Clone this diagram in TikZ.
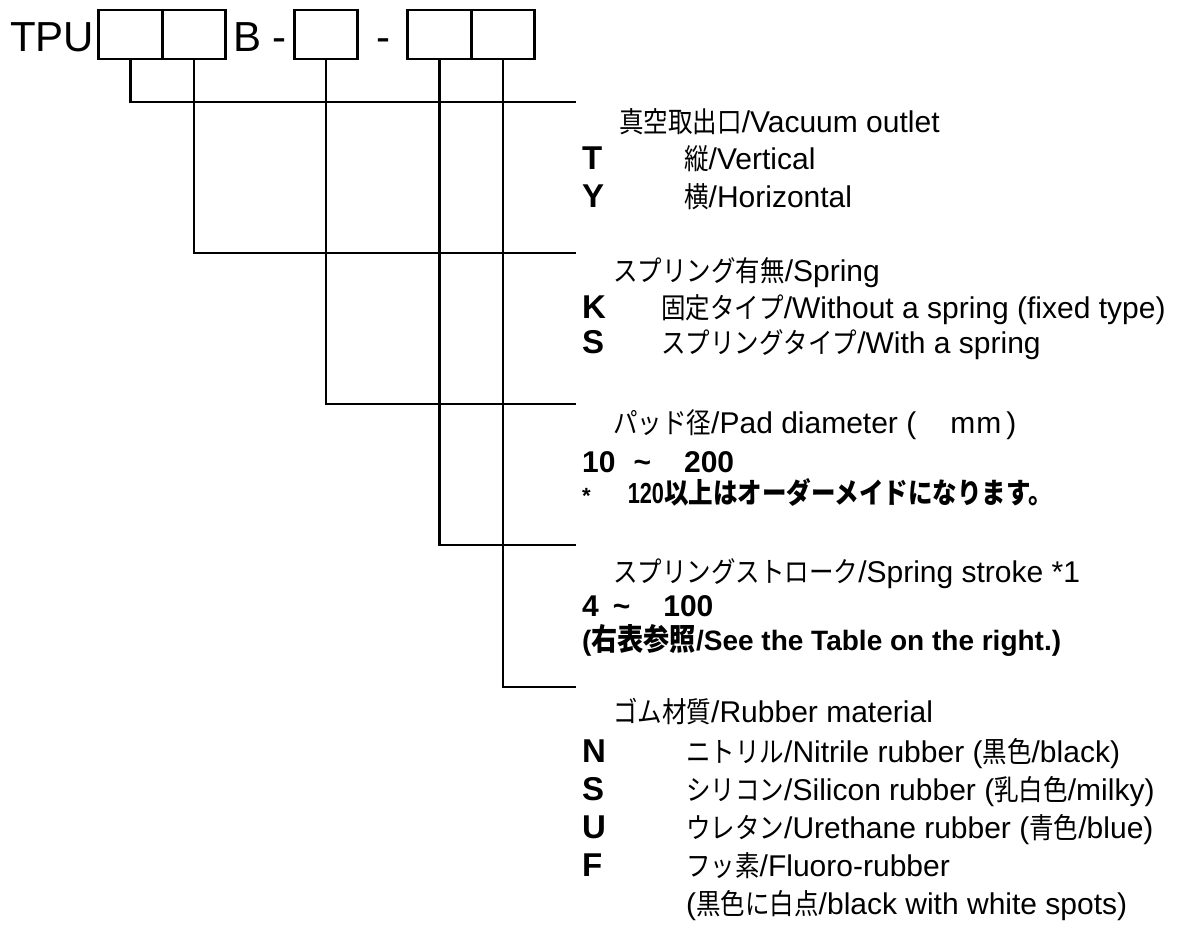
\documentclass[tikz,border=0pt]{standalone}
\usepackage{fontspec}
\setmainfont{Liberation Sans}
\newfontfamily\jpfont{Noto Sans CJK JP}[Scale=0.95,FakeStretch=0.86]
\newfontfamily\narrowfont{Liberation Sans}[FakeStretch=0.75]
\newcommand\jp[1]{{\jpfont#1}}

\begin{document}
\begin{tikzpicture}[x=1pt,y=-1pt,
font=\fontsize{30}{30}\selectfont,
cell/.style={draw,line width=2.6pt,minimum width=63.5pt,minimum height=49pt,inner sep=0pt},
conn/.style={line width=2.6pt},
txt/.style={anchor=base west,inner sep=0pt},
big/.style={txt,font=\fontsize{42}{42}\selectfont},
key/.style={txt,font=\fontsize{33}{33}\selectfont\bfseries},
val/.style={txt,font=\fontsize{30}{30}\selectfont\bfseries}]
\useasboundingbox (0,0) rectangle (1186,931);
\node[big] (tpu) at (10,52) {TPU};
\node[cell] (c1) at (130.5,34.5) {};\node[cell] (c2) at (194,34.5) {};
\node[big] (b) at (233,52) {B -};
\node[cell] (c3) at (326,34.5) {};
\node[big] (dash) at (376,52) {-};
\node[cell] (c4) at (439.5,34.5) {};\node[cell] (c5) at (503,34.5) {};
\coordinate (e1) at (576,102);\coordinate (e2) at (576,253);\coordinate (e3) at (576,404);
\coordinate (e4) at (576,545);\coordinate (e5) at (576,687);
\draw[conn] (c1.south) |- (e1);\draw[conn] (c2.south) |- (e2);\draw[conn] (c3.south) |- (e3);
\draw[conn] (c4.south) |- (e4);\draw[conn] (c5.south) |- (e5);
\node[txt] (h1) at (619,132) {\jp{真空取出口}/Vacuum outlet};
\node[key] (kt) at (582,170) {T};\node[txt] (dt) at (684,170) {\jp{縦}/Vertical};
\node[key] (ky) at (582,207) {Y};\node[txt] (dy) at (684,207) {\jp{横}/Horizontal};
\node[txt] (h2) at (613,281) {\jp{スプリング有無}/Spring};
\node[key] (kk) at (582,318) {K};\node[txt] (dk) at (661,318) {\jp{固定タイプ}/Without a spring (fixed type)};
\node[key] (ks) at (582,353) {S};\node[txt] (ds) at (661,353) {\jp{スプリングタイプ}/With a spring};
\node[txt] (h3) at (613,433) {\jp{パッド径}/Pad diameter (\hspace{34pt}m\hspace{1pt}m\hspace{5pt})};
\node[val] (pad) at (582,472) {10\hspace{18pt}\textasciitilde\hspace{33pt}200};
\node[val] (note) at (582,503) {\fontsize{22}{22}\selectfont *\hspace{37pt}{\narrowfont\fontsize{29}{29}\selectfont 120}\jp{\fontsize{30}{30}\selectfont 以上はオーダーメイドになります。}};
\node[txt] (h4) at (613,582) {\jp{スプリングストローク}/Spring stroke *1};
\node[val] (stroke) at (582,616) {4\hspace{14pt}\textasciitilde\hspace{33pt}100};
\node[val] (ref) at (582,650) {\fontsize{28}{28}\selectfont(\jp{\fontsize{32}{32}\selectfont 右表参照}/See the Table on the right.)};
\node[txt] (h5) at (613,722) {\jp{ゴム材質}/Rubber material};
\node[key] (kn) at (582,762) {N};\node[txt] (dn) at (686,762) {\jp{ニトリル}/Nitrile rubber (\jp{黒色}/black)};
\node[key] (ks2) at (582,800) {S};\node[txt] (ds2) at (686,800) {\jp{シリコン}/Silicon rubber (\jp{乳白色}/milky)};
\node[key] (ku) at (582,838) {U};\node[txt] (du) at (686,838) {\jp{ウレタン}/Urethane rubber (\jp{青色}/blue)};
\node[key] (kf) at (582,876) {F};\node[txt] (df) at (686,876) {\jp{フッ素}/Fluoro-rubber};
\node[txt] (df2) at (686,914) {(\jp{黒色に白点}/black with white spots)};
\end{tikzpicture}
\end{document}
